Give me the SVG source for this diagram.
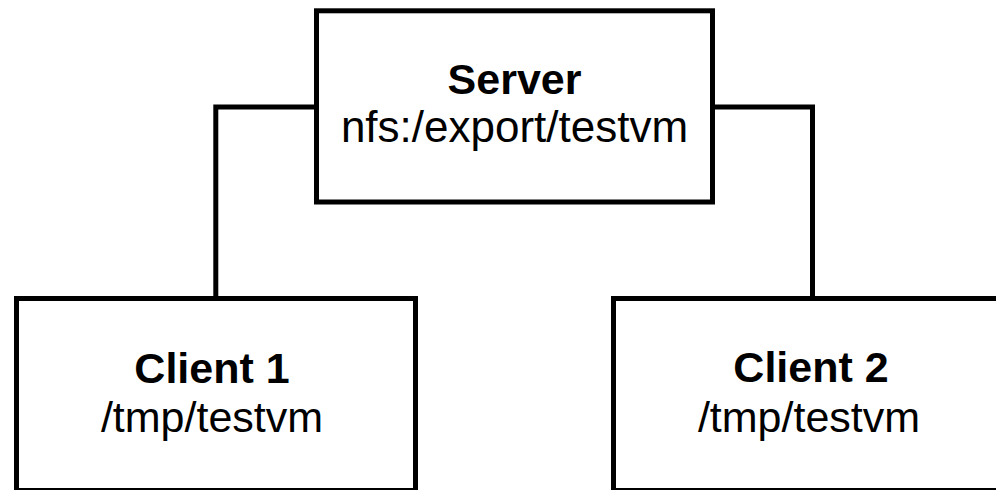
<svg xmlns="http://www.w3.org/2000/svg" width="996" height="490" viewBox="0 0 996 490">
  <style>
    .box { fill: #ffffff; stroke: #000000; stroke-width: 5; stroke-linejoin: miter; }
    .conn { fill: none; stroke: #000000; stroke-width: 5; stroke-linejoin: miter; }
    .title { font-family: "Liberation Sans", Arial, sans-serif; font-size: 43px; font-weight: bold; fill: #000000; text-anchor: middle; }
    .sub { font-family: "Liberation Sans", Arial, sans-serif; font-size: 43px; fill: #000000; text-anchor: middle; }
  </style>
  <rect x="0" y="0" width="996" height="490" fill="#ffffff"/>
  <g id="connectors">
    <path class="conn" d="M316.5 107 H215.8 V298.5"/>
    <path class="conn" d="M712.5 107 H812.5 V298.5"/>
  </g>
  <g id="server">
    <rect class="box" x="316.5" y="10.8" width="396" height="191.2"/>
    <text class="title" x="514.5" y="94">Server</text>
    <text class="sub" x="514.5" y="142" style="font-size:44px">nfs:/export/testvm</text>
  </g>
  <g id="client1">
    <rect class="box" x="16.5" y="298.5" width="399" height="192"/>
    <text class="title" x="212" y="383">Client 1</text>
    <text class="sub" x="212" y="432">/tmp/testvm</text>
  </g>
  <g id="client2">
    <rect class="box" x="613.5" y="298.5" width="400" height="192"/>
    <text class="title" x="811" y="382">Client 2</text>
    <text class="sub" x="809" y="432">/tmp/testvm</text>
  </g>
</svg>
